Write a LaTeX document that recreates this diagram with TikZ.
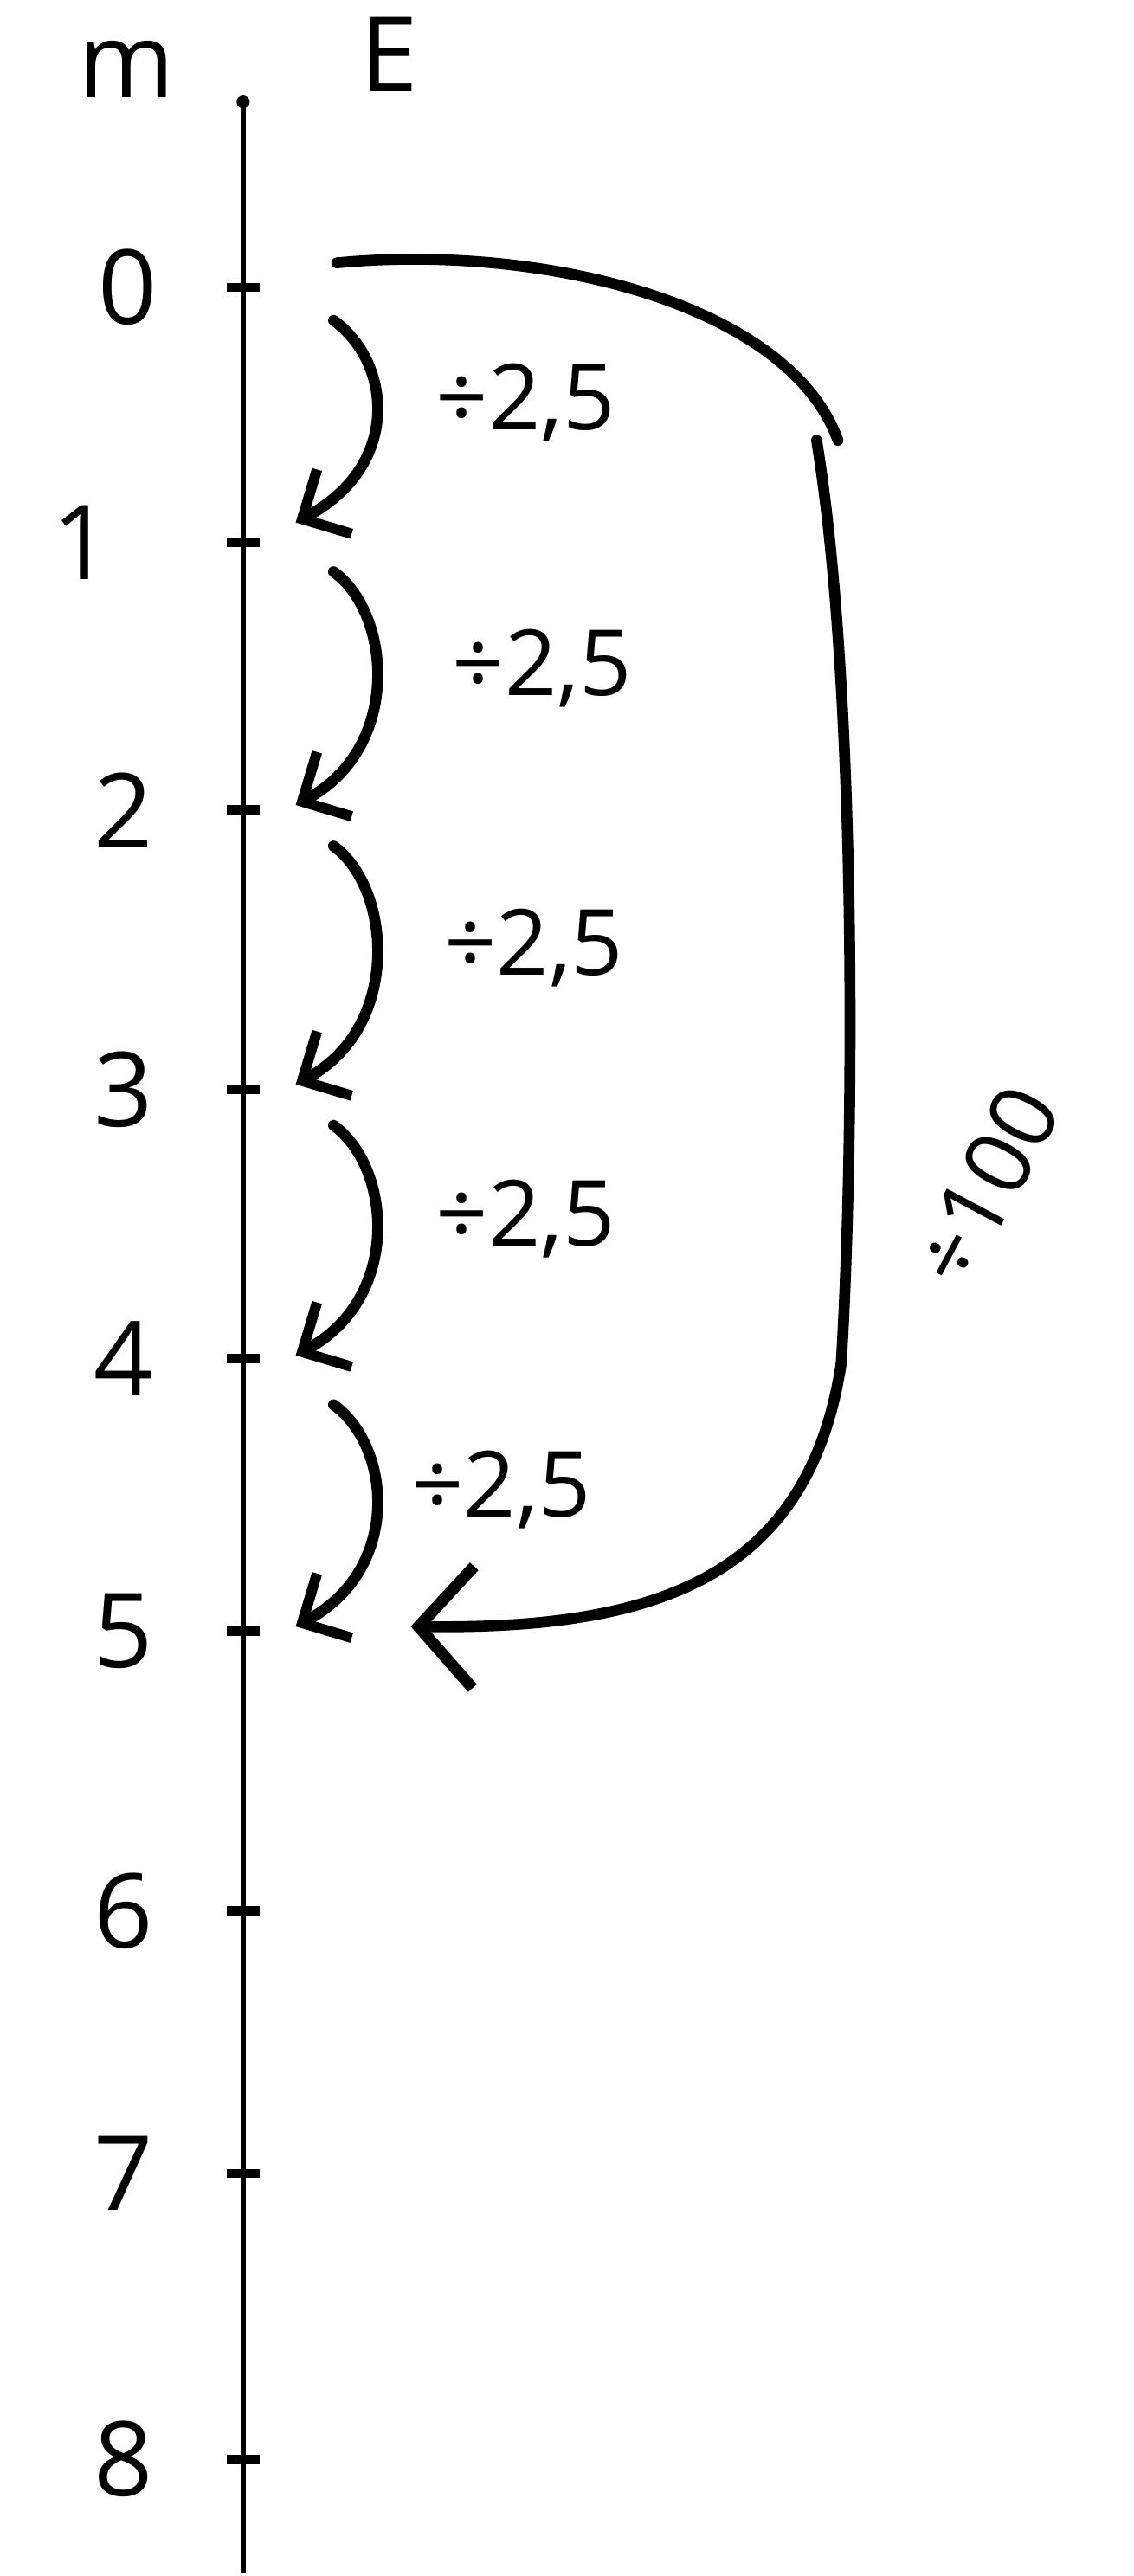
\documentclass[tikz,border=0pt]{standalone}
\usepackage{fontspec}
\setmainfont{Open Sans}
\usetikzlibrary{arrows.meta}
\begin{document}
\begin{tikzpicture}[x=0.01897cm,y=-0.01897cm,
  axisline/.style={line width=1.8pt},
  tickmark/.style={line width=3pt},
  hand/.style={line width=3.6pt, line cap=round},
  arr/.style={hand, -{Straight Barb[length=12pt,width=24pt,line width=3.4pt]}},
  numlab/.style={font=\fontsize{34}{40}\selectfont},
  oplab/.style={font=\fontsize{30}{36}\selectfont}]
\useasboundingbox (0,0) rectangle (690,1568);
\fill[white] (0,0) rectangle (690,1568);
\coordinate (top) at (148,62);
\coordinate (bot) at (148,1566);
\draw[axisline] (top) -- (bot);
\fill (top) circle (4);
\node[numlab] (m) at (77,42) {m};
\node[numlab] (E) at (237,33) {E};
\foreach \i/\y/\lx in {0/175/78,1/330/50,2/493/75,3/663/75,4/827/75,5/993/75,6/1163/75,7/1323/75,8/1497/75}{
  \coordinate (t\i) at (148,\y);
  \draw[tickmark] (t\i) ++(-10,0) -- ++(20,0);
  \node[numlab] (l\i) at (\lx,\y) {\i};
}
% small arrows
\foreach \i/\j/\sy/\ey/\lx/\ly in {0/1/195/318/320/245,1/2/348/490/330/407,2/3/515/660/325/577,3/4/685/825/320/742,4/5/855/990/305/907}{
  \coordinate (s\i) at (203,\sy);
  \coordinate (e\i) at (180,\ey);
  \draw[arr] (s\i) .. controls (238,\sy+25) and (245,\ey-35) .. (e\i);
  \node[oplab] (d\i) at (\lx,\ly) {÷2,5};
}
% big arc
\coordinate (b0) at (205,160);
\coordinate (b1) at (510,268);
\coordinate (b2) at (497,268);
\coordinate (b3) at (512,830);
\coordinate (b4) at (250,990);
\draw[hand] (b0) .. controls (330,148) and (480,185) .. (b1);
\draw[hand] (b2) .. controls (522,420) and (520,700) .. (b3);
\draw[hand, -{Straight Barb[length=18pt,width=40pt,line width=3.8pt]}] (b3) .. controls (492,960) and (400,992) .. (b4);
\node[oplab, rotate=62, inner sep=0pt] (h) at (600,722) {÷100};
\end{tikzpicture}
\end{document}
